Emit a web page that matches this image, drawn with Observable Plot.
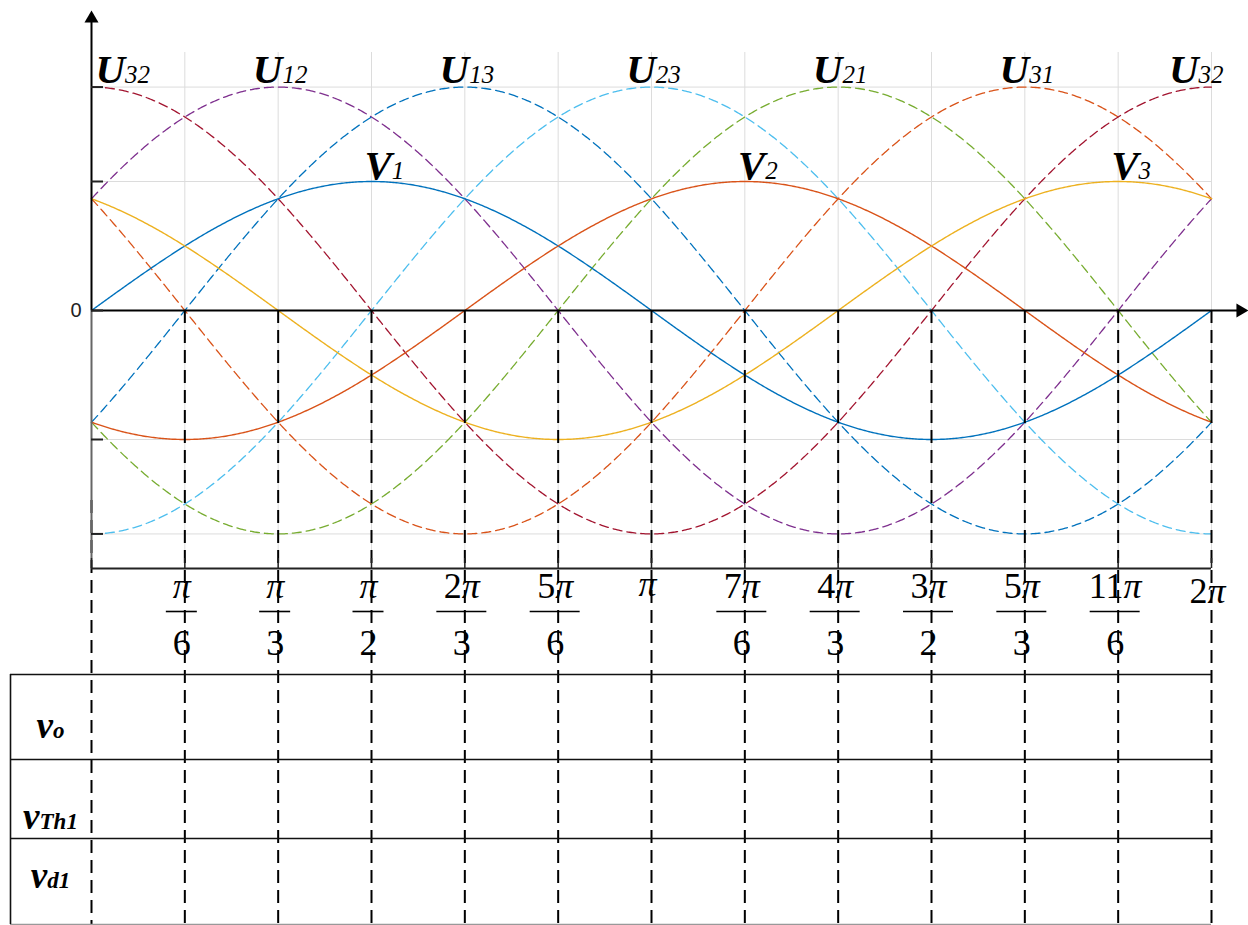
<!DOCTYPE html>
<html>
<head>
<meta charset="utf-8">
<script src="https://cdn.jsdelivr.net/npm/d3@7"></script>
<script src="https://cdn.jsdelivr.net/npm/@observablehq/plot@0.6"></script>
<style>
  html, body { margin: 0; padding: 0; background: #fff; }
  #chart svg { display: block; }
</style>
</head>
<body>
<div id="chart"></div>
<script>
const PI = Math.PI;

// Phase voltages: angle of the positive peak and amplitude (per unit)
const phaseNames  = ["V1", "V2", "V3"];
const phasePeaks  = [PI / 2, 7 * PI / 6, 11 * PI / 6];
const phaseAmp    = 1;
const phaseColors = ["#0072BD", "#D95319", "#EDB120"];

// Line-to-line voltages: angle of the positive peak and amplitude (per unit)
const lineNames  = ["U12", "U13", "U23", "U21", "U31", "U32"];
const linePeaks  = [PI / 3, 2 * PI / 3, PI, 4 * PI / 3, 5 * PI / 3, 2 * PI];
const lineAmp    = 1.732;
const lineColors = ["#7E2F8E", "#0072BD", "#4DBEEE", "#77AC30", "#D95319", "#A2142F"];

// Angle axis: multiples of π/6 and their labels
const tickSteps  = [1, 2, 3, 4, 5, 6, 7, 8, 9, 10, 11, 12];
const tickNum    = ["π", "π", "π", "2π", "5π", "π", "7π", "4π", "3π", "5π", "11π", "2π"];
const tickDen    = ["6", "3", "2", "3", "6", "", "6", "3", "2", "3", "6", ""];

// Horizontal reference levels
const gridLevels = [-1.732, -1, 1, 1.732];

// Rows of the waveform table under the plot
const rowLabels = ["vo", "vTh1", "vd1"];

// ---------------------------------------------------------------------
const TWO_PI = 2 * PI;
const X_RANGE = [91, 1211];
const Y_RANGE = [568, 52];
const sx = d3.scaleLinear([0, TWO_PI], X_RANGE);
const sy = d3.scaleLinear([-2, 2], Y_RANGE);
const pxW = w => w * TWO_PI / (X_RANGE[1] - X_RANGE[0]);   // pixel width -> radians

const tickValues = tickSteps.map(k => k * PI / 6);
const samples = d3.range(0, 721).map(i => i * TWO_PI / 720);

function wave(names, peaks, amp, colors) {
  return names.flatMap((name, i) =>
    samples.map(x => ({name, color: colors[i], x, y: amp * Math.cos(x - peaks[i])})));
}
const phaseData = wave(phaseNames, phasePeaks, phaseAmp, phaseColors);
const lineData  = wave(lineNames, linePeaks, lineAmp, lineColors);

// Curve labels: inner peaks centred, the peak shared by both ends split in two
const lineLabels = lineNames.map((name, i) => ({name, x: linePeaks[i] % TWO_PI}));
const innerLabels = lineLabels.filter(d => d.x > 0);
const edgeLabels = lineLabels.filter(d => d.x === 0);
const phaseLabels = phaseNames.map((name, i) => ({name, x: phasePeaks[i]}));

const ticks = tickValues.map((v, i) => ({v, num: tickNum[i], den: tickDen[i]}));
const fractions = ticks.filter(d => d.den !== "");
const wholes = ticks.filter(d => d.den === "");

// Table geometry
const tableLeft = sx.invert(10);
const tableLines = [674, 759, 838].map(p => sy.invert(p));
const tableBottom = sy.invert(924);
const rowCenters = [726, 817, 876].map(p => sy.invert(p));
const rows = rowLabels.map((name, i) => ({name, y: rowCenters[i]}));

const SERIF = "'Liberation Serif', 'Times New Roman', serif";
const labelStyle = {fontFamily: SERIF, fontSize: 41, fontWeight: "bold", fontStyle: "italic", fill: "#000"};
const tickStyle = {fontFamily: SERIF, fontSize: 36, fill: "#000"};

const chart = Plot.plot({
  width: 1248,
  height: 925,
  x: {domain: [0, TWO_PI], range: X_RANGE, axis: null},
  y: {domain: [-2, 2], range: Y_RANGE, axis: null},
  color: {type: "identity"},
  style: {background: "#fff", overflow: "visible"},
  marks: [
    // light grid
    Plot.ruleX(tickValues, {y1: -2, y2: 2, stroke: "#dcdcdc", strokeWidth: 1}),
    Plot.ruleY(gridLevels, {x1: 0, x2: TWO_PI, stroke: "#dcdcdc", strokeWidth: 1}),

    // line-to-line voltages (dashed)
    Plot.line(lineData, {x: "x", y: "y", z: "name", stroke: "color",
      strokeWidth: 1.3, strokeDasharray: "9,5"}),
    // phase voltages (solid)
    Plot.line(phaseData, {x: "x", y: "y", z: "name", stroke: "color", strokeWidth: 1.4}),

    // black dashed guides down through the table
    Plot.ruleX(tickValues, {y1: 0, y2: tableBottom, stroke: "#000", strokeWidth: 2, strokeDasharray: "13,7"}),
    Plot.ruleX([0], {y1: sy.invert(500), y2: tableBottom, stroke: "#000", strokeWidth: 2, strokeDasharray: "13,7"}),

    // axes
    Plot.ruleX([0], {y1: 0, y2: sy.invert(22), stroke: "#000", strokeWidth: 2}),
    Plot.ruleX([0], {y1: -2, y2: 0, stroke: "#666", strokeWidth: 2}),
    Plot.ruleY([0], {x1: 0, x2: sx.invert(1238), stroke: "#000", strokeWidth: 2}),
    Plot.ruleY([-2], {x1: 0, x2: TWO_PI, stroke: "#222", strokeWidth: 2}),
    Plot.ruleX([0, ...tickValues], {y1: -2, y2: sy.invert(558), stroke: "#222", strokeWidth: 1.5}),
    Plot.ruleY([0, ...gridLevels], {x1: 0, x2: pxW(12), stroke: "#222", strokeWidth: 2}),
    Plot.dot([{x: 0, y: sy.invert(18)}], {x: "x", y: "y", symbol: "triangle", r: 5.2, fill: "#000", stroke: null}),
    Plot.dot([{x: sx.invert(1240), y: 0}], {x: "x", y: "y", symbol: "triangle", r: 5.2, fill: "#000", stroke: null, rotate: 90}),
    Plot.text(["0"], {x: 0, y: 0, text: d => d, textAnchor: "end", dx: -10,
      fontFamily: "'Liberation Sans', Arial, sans-serif", fontSize: 20, fill: "#222"}),

    // angle tick labels (fractions)
    Plot.text(fractions, {x: "v", y: sy.invert(586), text: "num", dx: -3, ...tickStyle}),
    Plot.ruleY(fractions, {y: () => sy.invert(611),
      x1: d => d.v - pxW(d.num.length > 1 ? 25 : 15.5) - pxW(3),
      x2: d => d.v + pxW(d.num.length > 1 ? 25 : 15.5) - pxW(3),
      stroke: "#000", strokeWidth: 1.6}),
    Plot.text(fractions, {x: "v", y: sy.invert(643), text: "den", dx: -3, ...tickStyle}),
    Plot.text(wholes, {x: "v", y: d => sy.invert(d.num.length > 1 ? 591 : 584), text: "num", dx: -4, ...tickStyle}),

    // curve labels
    Plot.text(innerLabels, {x: "x", y: lineAmp, text: "name", dy: -17, dx: 2, textAnchor: "middle", ...labelStyle}),
    Plot.text(edgeLabels, {x: 0, y: lineAmp, text: "name", dy: -17, dx: 4, textAnchor: "start", ...labelStyle}),
    Plot.text(edgeLabels, {x: TWO_PI, y: lineAmp, text: "name", dy: -17, dx: 12, textAnchor: "end", ...labelStyle}),
    Plot.text(phaseLabels, {x: "x", y: phaseAmp, text: "name", dy: -16, dx: -7, textAnchor: "start", ...labelStyle}),

    // waveform table
    Plot.ruleY(tableLines, {x1: tableLeft, x2: TWO_PI, stroke: "#111", strokeWidth: 1.6}),
    Plot.ruleY([tableBottom], {x1: tableLeft, x2: TWO_PI, stroke: "#999", strokeWidth: 1.6}),
    Plot.ruleX([tableLeft], {y1: tableLines[0], y2: tableBottom, stroke: "#111", strokeWidth: 1.6}),
    Plot.text(rows, {x: sx.invert(50), y: "y", text: "name", ...labelStyle, fontSize: 37})
  ]
});

// Subscripts: first letter large, the rest set smaller on the same baseline
const SVGNS = "http://www.w3.org/2000/svg";
const curveNames = new Set([...lineNames, ...phaseNames]);
const rowNames = new Set(rowLabels);
chart.querySelectorAll("text").forEach(el => {
  const s = el.textContent;
  if (curveNames.has(s) || rowNames.has(s)) {
    el.textContent = "";
    const main = document.createElementNS(SVGNS, "tspan");
    main.textContent = s[0];
    const sub = document.createElementNS(SVGNS, "tspan");
    sub.textContent = s.slice(1);
    sub.setAttribute("font-size", rowNames.has(s) ? 23 : 25);
    sub.setAttribute("font-weight", rowNames.has(s) ? "bold" : "normal");
    el.append(main, sub);
  } else if (s.includes("π")) {
    // italic π inside the angle labels
    el.textContent = "";
    s.split(/(π)/).filter(t => t !== "").forEach(t => {
      const ts = document.createElementNS(SVGNS, "tspan");
      ts.textContent = t;
      if (t === "π") ts.setAttribute("font-style", "italic");
      el.append(ts);
    });
  }
});

document.getElementById("chart").append(chart);
</script>
</body>
</html>
